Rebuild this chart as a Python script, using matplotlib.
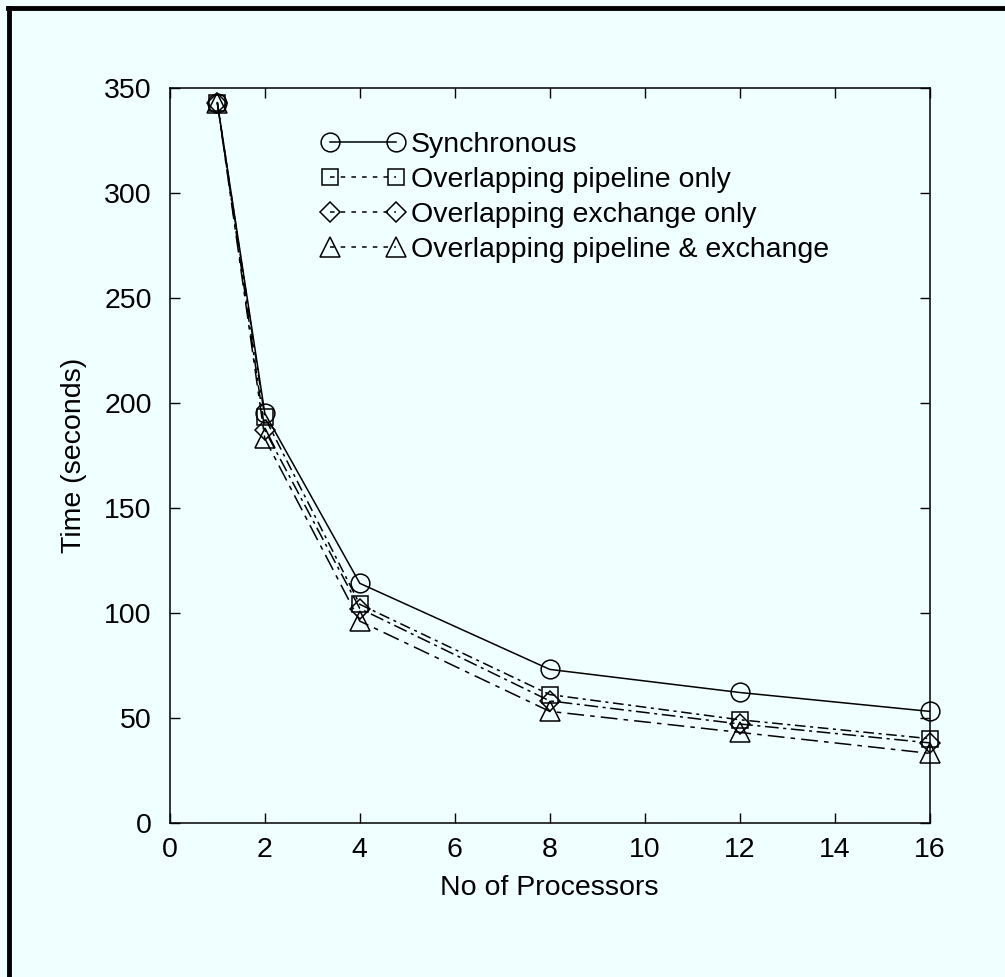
import matplotlib
matplotlib.use("Agg")
import matplotlib.pyplot as plt
from matplotlib.lines import Line2D

plt.rcParams['font.family'] = ['Liberation Sans', 'DejaVu Sans']

# Data
processors = [1, 2, 4, 8, 12, 16]
synchronous = [343, 195, 114, 73, 62, 53]
pipeline_only = [343, 193, 104, 61, 49, 40]
exchange_only = [343, 187, 102, 58, 47, 38]
pipeline_exchange = [343, 183, 96, 53, 43, 33]

series_labels = ["Synchronous", "Overlapping pipeline only",
                 "Overlapping exchange only", "Overlapping pipeline & exchange"]
x_ticks = list(range(0, 17, 2))
y_ticks = list(range(0, 351, 50))

FS = 20.5
bg = '#f0ffff'
fig = plt.figure(figsize=(10.05, 9.77), dpi=100, facecolor=bg)
ax = fig.add_axes([0.169, 0.158, 0.756, 0.752], facecolor=bg)

styles = [
    dict(marker='o', ms=13.5, ls='-'),
    dict(marker='s', ms=11.5, ls=(0, (7, 3, 2, 3))),
    dict(marker='D', ms=10, ls=(0, (9, 3, 2, 3))),
    dict(marker='^', ms=14, ls=(0, (11, 4, 3, 4))),
]
all_series = [synchronous, pipeline_only, exchange_only, pipeline_exchange]
for vals, st in zip(all_series, styles):
    ax.plot(processors, vals, color='black', lw=1.1, ls=st['ls'],
            marker=st['marker'], ms=st['ms'], mfc='none', mec='black', mew=1.1,
            clip_on=False)

ax.set_xlim(0, 16)
ax.set_ylim(0, 350)
ax.set_xticks(x_ticks)
ax.set_yticks(y_ticks)
ax.tick_params(direction='in', length=7, width=1, top=True, right=True,
               labelsize=FS)
ax.tick_params(axis='y', pad=13)
ax.tick_params(axis='x', pad=10)
for s in ax.spines.values():
    s.set_linewidth(1.1)

ax.set_xlabel("No of Processors", fontsize=FS, labelpad=9)
ax.set_ylabel("Time (seconds)", fontsize=FS, labelpad=12)

# Legend with short dashed handles and a marker at each end
handles = []
legend_ls = ['-', (0, (3, 4)), (0, (3, 4)), (0, (3, 4))]
for st, lls in zip(styles, legend_ls):
    handles.append(Line2D([], [], color='black', lw=1.1, ls=lls,
                          marker=st['marker'], ms=st['ms'], mfc='none',
                          mec='black', mew=1.1))
leg = ax.legend(handles, series_labels, loc='upper left',
                bbox_to_anchor=(0.184, 0.955), frameon=False, fontsize=FS,
                numpoints=2, handlelength=2.95, handletextpad=0.2,
                labelspacing=0.31, borderaxespad=0)

# Page frame along top and left edges
fig.add_artist(Line2D([0.0075, 1.0], [0.9915, 0.9915], color='black', lw=3.5,
                      transform=fig.transFigure))
fig.add_artist(Line2D([0.0085, 0.0085], [0.0, 0.9915], color='black', lw=3.5,
                      transform=fig.transFigure))

fig.savefig("out.png", dpi=100, facecolor=bg)
